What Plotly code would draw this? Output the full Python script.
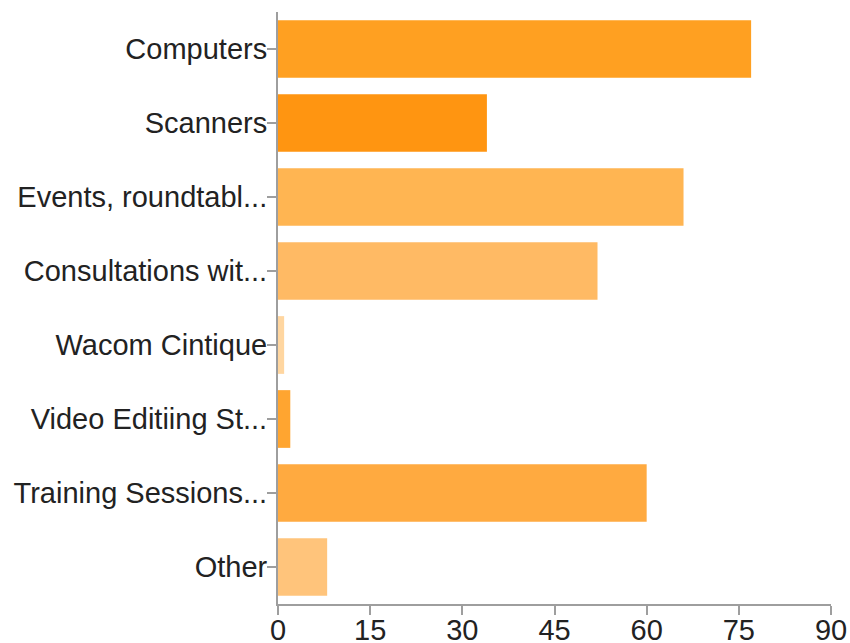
import plotly.graph_objects as go

categories = ["Computers", "Scanners", "Events, roundtabl...", "Consultations wit...",
              "Wacom Cintique", "Video Editiing St...", "Training Sessions...", "Other"]
values = [77, 34, 66, 52, 1, 2, 60, 8]
bar_colors = ["#FFA021", "#FF9511", "#FFB552", "#FFBA64", "#FFD6A0", "#FFA530", "#FFAA40", "#FFC47B"]
x_ticks = [0, 15, 30, 45, 60, 75, 90]

fig = go.Figure(go.Bar(
    y=categories, x=values, orientation="h",
    marker=dict(color=bar_colors, line=dict(width=0)),
    width=0.78,
))

fig.update_layout(
    width=850, height=643,
    margin=dict(l=278, r=19, t=12, b=39),
    paper_bgcolor="white", plot_bgcolor="white",
    font=dict(family="Liberation Sans, Arial, sans-serif", size=29, color="#222222"),
    showlegend=False,
)
fig.update_xaxes(
    range=[0, 90], tickvals=x_ticks, showgrid=False, zeroline=False,
    showline=True, linecolor="#9e9e9e", linewidth=2,
    ticks="outside", ticklen=9, tickcolor="#9e9e9e", tickwidth=2,
    tickfont=dict(size=29, color="#222222"), automargin=False,
    ticklabelstandoff=-10,
)
fig.update_yaxes(
    categoryorder="array", categoryarray=categories, autorange="reversed",
    showgrid=False, zeroline=False,
    showline=True, linecolor="#9e9e9e", linewidth=2,
    ticks="outside", ticklen=9, tickcolor="#9e9e9e", tickwidth=2,
    tickfont=dict(size=29, color="#222222"), automargin=False,
    ticklabelstandoff=-6,
)

fig.write_html("out.html", config={"displayModeBar": False},
               post_script="document.body.style.margin='0';document.body.style.overflow='hidden';")
